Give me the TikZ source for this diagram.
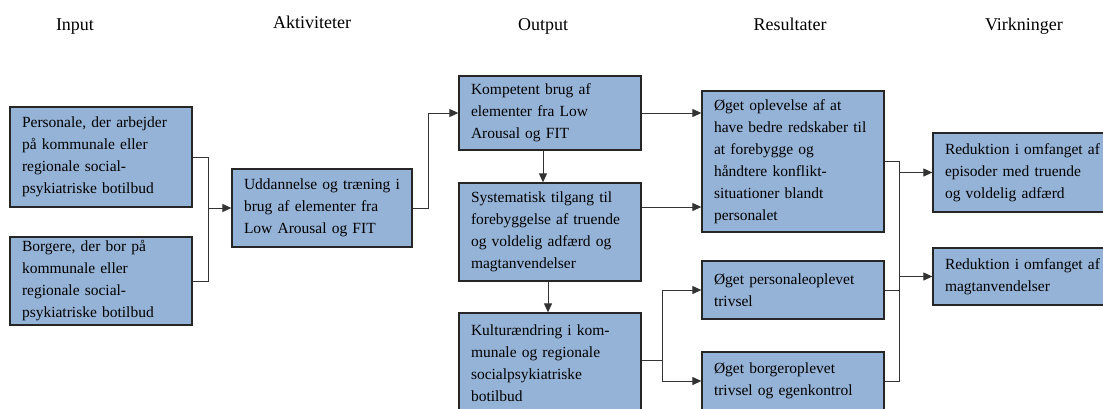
\documentclass[tikz,border=0pt]{standalone}
\usepackage{fontspec}
\setmainfont{Liberation Serif}
\usetikzlibrary{arrows.meta}
\definecolor{boxblue}{HTML}{95B3D7}
\tikzset{
  box/.style={draw=black!85, line width=1.3pt, fill=boxblue, align=left,
    inner xsep=12pt, text width=#1, font=\fontsize{15.5}{22}\selectfont},
  box/.default=158pt,
  wire/.style={draw=black!80, line width=1pt},
  link/.style={wire, -{Triangle[length=9pt,width=8pt]}}
}
\begin{document}
\begin{tikzpicture}[x=1pt,y=-1pt]
      \useasboundingbox (0,0) rectangle (1103,408);
      \foreach \t/\x/\y [count=\i] in {
        Input/75/30,
        Aktiviteter/312/28,
        Output/543/30,
        Resultater/790/30,
        Virkninger/1024/30
      }
      {
        \node[anchor=base, font=\fontsize{18}{22}\selectfont] (h\i) at (\x,\y) {\t};
      }

      % input
      \node[box, minimum height=100pt] (pers) at (101,157)
        {Personale, der arbejder\\på kommunale eller\\regionale social-\\psykiatriske botilbud};
      \node[box, minimum height=88pt] (borg) at (101,281)
        {Borgere, der bor på\\kommunale eller\\regionale social-\\psykiatriske botilbud};

      % aktiviteter
      \node[box=156pt, minimum height=78pt] (udd) at (322,208)
        {Uddannelse og træning i\\brug af elementer fra\\Low Arousal og FIT};

      % output
      \node[box, minimum height=74pt] (komp) at (550,113)
        {Kompetent brug af\\elementer fra Low\\Arousal og FIT};
      \node[box, minimum height=98pt] (syst) at (550,232)
        {Systematisk tilgang til\\forebyggelse af truende\\og voldelig adfærd og\\magtanvendelser};
      \node[box, minimum height=100pt] (kult) at (550,363)
        {Kulturændring i kom-\\munale og regionale\\socialpsykiatriske\\botilbud};

      % resultater
      \node[box, minimum height=141pt] (opl) at (793,161.5)
        {Øget oplevelse af at\\have bedre redskaber til\\at forebygge og\\håndtere konflikt-\\situationer blandt\\personalet};
      \node[box, minimum height=58pt] (per) at (793,290)
        {Øget personaleoplevet\\trivsel};
      \node[box, minimum height=58pt] (bor) at (793,381)
        {Øget borgeroplevet\\trivsel og egenkontrol};

      % virkninger
      \node[box=170pt, minimum height=79pt] (red1) at (1030,172.5)
        {Reduktion i omfanget af\\episoder med truende\\og voldelig adfærd};
      \node[box=170pt, minimum height=57pt] (red2) at (1030,276.5)
        {Reduktion i omfanget af\\magtanvendelser};

      \coordinate (j1) at (208,208);
      \draw[wire] (pers.east) -| (j1);
      \draw[wire] (borg.east) -| (j1);
      \draw[link] (j1) -- (j1 -| udd.west);
      \draw[link] (udd.east) -- ++(16,0) |- (komp.west);

      \draw[link] ([xshift=-7pt]komp.south) -- ([xshift=-7pt]syst.north);
      \draw[link] ([xshift=-2pt]syst.south) -- ([xshift=-2pt]kult.north);
      \draw[link] (komp.east) -- (komp.east -| opl.west);
      \draw[link] ([yshift=25pt]syst.east) -- ([yshift=25pt]syst.east -| opl.west);

      \coordinate (j2) at (662,360);
      \draw[wire] (kult.east |- j2) -- (j2);
      \draw[link] (j2) |- (per.west);
      \draw[link] (j2) |- (bor.west);

      \coordinate (j3) at (899,0);
      \draw[wire] (opl.east) -| (j3 |- bor.east) -- (bor.east);
      \draw[wire] (per.east) -- (per.east -| j3);
      \draw[link] (red1.west -| j3) -- (red1.west);
      \draw[link] (red2.west -| j3) -- (red2.west);

    \end{tikzpicture}
\end{document}
